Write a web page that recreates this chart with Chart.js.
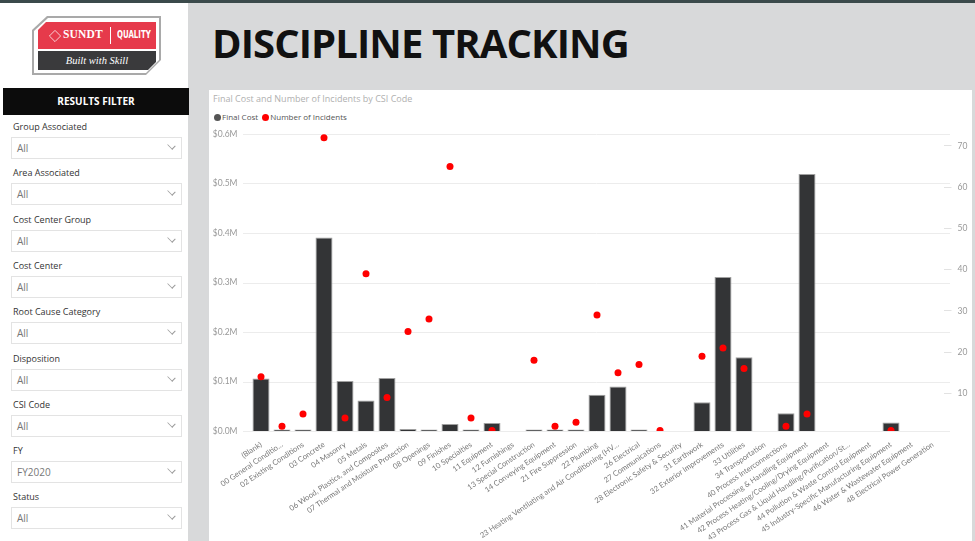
<!DOCTYPE html>
<html lang="en">
<head>
<meta charset="UTF-8">
<title>Discipline Tracking</title>
<script src="https://cdn.jsdelivr.net/npm/chart.js"></script>
<style>
    body {
        margin: 0;
        width: 975px;
        height: 541px;
        overflow: hidden;
        background: #d8d9da;
        font-family: 'Segoe UI', 'Open Sans', sans-serif;
        position: relative;
    }
    .topbar { position: absolute; left: 0; top: 0; width: 975px; height: 3px; background: #3b4a4b; }
    .sidebar { position: absolute; left: 0; top: 3px; width: 188px; height: 538px; background: #fff; }

    /* logo */
    .logo-frame {
        position: absolute; left: 32px; top: 16px; width: 129px; height: 59px;
        background: #a9a9a9;
        clip-path: polygon(15px 0, 100% 0, 100% 44px, 114px 100%, 0 100%, 0 14px);
    }
    .logo-inner {
        position: absolute; left: 2px; top: 2px; right: 2px; bottom: 2px; background: #fff;
        clip-path: polygon(14px 0, 100% 0, 100% 42px, 112px 100%, 0 100%, 0 13px);
    }
    .logo-red {
        position: absolute; left: 38px; top: 22px; width: 118px; height: 27px; background: #e63a4b;
        clip-path: polygon(8px 0, 100% 0, 100% 100%, 0 100%, 0 8px);
        color: #fff;
    }
    .logo-red .brand { position: absolute; left: 25px; top: 6px; font-family: 'Liberation Serif', serif; font-size: 11.5px; font-weight: bold; letter-spacing: 0.2px; }
    .logo-red .sep { position: absolute; left: 72px; top: 5px; width: 1px; height: 17px; background: #fff; }
    .logo-red .qual { position: absolute; left: 79px; top: 7px; font-family: 'Liberation Sans Narrow', 'DejaVu Sans Condensed', sans-serif; font-size: 10px; font-weight: bold; transform: scaleX(0.78); transform-origin: left; }
    .logo-red .mark {
        position: absolute; left: 11px; top: 8px; width: 10px; height: 10px; border: 1.5px solid #fff; transform: rotate(45deg) scale(0.72);
    }
    .logo-dark {
        position: absolute; left: 38px; top: 51px; width: 118px; height: 19px; background: #3a3a3c;
        clip-path: polygon(0 0, 100% 0, 100% 11px, 110px 100%, 0 100%);
        color: #fff; text-align: center;
        font-family: 'Liberation Serif', serif; font-style: italic; font-size: 10.5px; line-height: 19px;
    }

    .filter-head {
        position: absolute; left: 3px; top: 88px; width: 186px; height: 27px; background: #0c0c0c;
        color: #fff; font-weight: 700; font-size: 10px; text-align: center; line-height: 27px;
    }
    .flabel { position: absolute; left: 13px; font-size: 9px; color: #333; }
    .fbox {
        position: absolute; left: 11px; width: 169px; height: 20px; border: 1px solid #e3e3e3; background: #fff;
        font-size: 10px; color: #777; line-height: 21px; box-sizing: content-box;
    }
    .fbox span { position: absolute; left: 5px; top: 0; }
    .fbox i {
        position: absolute; right: 6px; top: 4px; width: 6px; height: 6px;
        border-right: 1px solid #999; border-bottom: 1px solid #999; transform: rotate(45deg) scaleY(0.7);
    }

    .title {
        position: absolute; left: 212px; top: 23px; font-size: 40px; line-height: 40px; font-weight: 700;
        color: #111; letter-spacing: -0.9px; white-space: nowrap;
    }
    .panel { position: absolute; left: 209px; top: 90px; width: 763px; height: 451px; background: #fff; }
    .chart-title { position: absolute; left: 213px; top: 92px; font-size: 9px; color: #b0b0b0; white-space: nowrap; }
    .legend { position: absolute; left: 214px; top: 111px; font-size: 8px; color: #555; white-space: nowrap; }
    .legend .dot { display: inline-block; width: 7px; height: 7px; border-radius: 50%; vertical-align: -1px; margin-right: 1px; }
    #wrap { position: absolute; left: 199px; top: 125px; width: 773px; height: 430px; }
</style>
</head>
<body>
<div class="topbar"></div>
<div class="sidebar"></div>

<div class="logo-frame"><div class="logo-inner"></div></div>
<div class="logo-red"><div class="mark"></div><span class="brand">SUNDT</span><div class="sep"></div><span class="qual">QUALITY</span></div>
<div class="logo-dark">Built with Skill</div>

<div class="filter-head">RESULTS FILTER</div>
<div id="filters"></div>

<div class="title">DISCIPLINE TRACKING</div>
<div class="panel"></div>
<div class="chart-title">Final Cost and Number of Incidents by CSI Code</div>
<div class="legend">
    <span class="dot" style="background:#555"></span>Final Cost
    <span class="dot" style="background:#ff0000;margin-left:2px"></span>Number of Incidents
</div>
<div id="wrap"><canvas id="chart" width="773" height="430"></canvas></div>

<script>
    // sidebar slicers
    const filterNames = ['Group Associated', 'Area Associated', 'Cost Center Group', 'Cost Center',
        'Root Cause Category', 'Disposition', 'CSI Code', 'FY', 'Status'];
    const filterValues = ['All', 'All', 'All', 'All', 'All', 'All', 'All', 'FY2020', 'All'];

    // chart data
    const csiCodes = [
        '(Blank)', '00 General Conditio…', '02 Existing Conditions', '03 Concrete', '04 Masonry',
        '05 Metals', '06 Wood, Plastics, and Composites', '07 Thermal and Moisture Protection',
        '08 Openings', '09 Finishes', '10 Specialties', '11 Equipment', '12 Furnishings',
        '13 Special Construction', '14 Conveying Equipment', '21 Fire Suppression', '22 Plumbing',
        '23 Heating Ventilating and Air Conditioning (HV…', '26 Electrical', '27 Communications',
        '28 Electronic Safety & Security', '31 Earthwork', '32 Exterior Improvements', '33 Utilities',
        '34 Transportation', '40 Process Interconnections', '41 Material Processing & Handling Equipment',
        '42 Process Heating/Cooling/Drying Equipment', '43 Process Gas & Liquid Handling/Purification/St…',
        '44 Pollution & Waste Control Equipment', '45 Industry-Specific Manufacturing Equipment',
        '46 Water & Wastewater Equipment', '48 Electrical Power Generation'
    ];
    const finalCost = [
        106000, 3000, 3000, 391000, 101000, 61500, 107000, 4000, 3000, 14000, 3000, 16000, null,
        3000, 3000, 3000, 73000, 90000, 3000, null, null, 58000, 311000, 149000, null,
        36000, 519000, null, null, null, 17000, null, null
    ];
    const incidents = [
        14, 2, 5, 72, 4, 39, 9, 25, 28, 65, 4, 1, null,
        18, 2, 3, 29, 15, 17, 1, null, 19, 21, 16, null,
        2, 5, null, null, null, 1, null, null
    ];
    const costTicks = [0, 100000, 200000, 300000, 400000, 500000, 600000];
    const countTicks = [10, 20, 30, 40, 50, 60, 70];

    const fwrap = document.getElementById('filters');
    filterNames.forEach((name, i) => {
        const top = 120 + i * 46.3;
        const l = document.createElement('div');
        l.className = 'flabel';
        l.style.top = top + 'px';
        l.textContent = name;
        fwrap.appendChild(l);
        const b = document.createElement('div');
        b.className = 'fbox';
        b.style.top = (top + 17) + 'px';
        b.innerHTML = '<span>' + filterValues[i] + '</span><i></i>';
        fwrap.appendChild(b);
    });

    Chart.defaults.font.family = "'Segoe UI', Lato, sans-serif";

    // gridlines run a bit past the plot like Power BI does
    const extGrid = {
        id: 'extGrid',
        beforeDatasetsDraw(chart) {
            const y = chart.scales.y, ctx = chart.ctx, a = chart.chartArea;
            ctx.save();
            ctx.strokeStyle = '#ececec';
            ctx.lineWidth = 1;
            y.ticks.forEach(t => {
                const py = Math.round(y.getPixelForValue(t.value)) + 0.5;
                ctx.beginPath();
                ctx.moveTo(a.left - 7.5, py);
                ctx.lineTo(a.right + 6.5, py);
                ctx.stroke();
            });
            ctx.restore();
        }
    };

    new Chart(document.getElementById('chart'), {
        data: {
            labels: csiCodes,
            datasets: [
                {
                    type: 'line',
                    label: 'Number of Incidents',
                    data: incidents,
                    yAxisID: 'y1',
                    showLine: false,
                    pointRadius: 3.5,
                    pointHoverRadius: 3.5,
                    pointBorderWidth: 0,
                    pointBackgroundColor: '#ff0000',
                    borderColor: '#ff0000',
                    clip: 0,
                    order: 0
                },
                {
                    type: 'bar',
                    label: 'Final Cost',
                    data: finalCost,
                    yAxisID: 'y',
                    backgroundColor: '#333436',
                    borderColor: '#a0a0a0',
                    borderWidth: 1,
                    categoryPercentage: 1,
                    barPercentage: 0.81,
                    order: 1
                }
            ]
        },
        options: {
            responsive: false,
            animation: false,
            devicePixelRatio: 1,
            layout: { padding: { top: 9, bottom: 0, left: 0, right: 0 } },
            plugins: { legend: { display: false }, tooltip: { enabled: false } },
            scales: {
                x: {
                    grid: { display: false },
                    border: { display: false },
                    ticks: {
                        autoSkip: false, maxRotation: 34, minRotation: 34, padding: 1,
                        color: '#777', font: { size: 7.6 }
                    },
                    afterFit: s => { s.height = 124; }
                },
                y: {
                    position: 'left',
                    min: 0, max: 600000,
                    grid: { display: false, drawTicks: false },
                    border: { display: false },
                    afterBuildTicks: s => { s.ticks = costTicks.map(v => ({ value: v })); },
                    ticks: {
                        padding: 13, color: '#999', font: { size: 8.5 },
                        callback: v => '$' + (v / 1000000).toFixed(1) + 'M'
                    },
                    afterFit: s => { s.width = 51.5; s.paddingTop = 0; s.paddingBottom = 0; }
                },
                y1: {
                    position: 'right',
                    min: 0.85, max: 72.9,
                    grid: { drawOnChartArea: false, drawTicks: true, tickLength: 8, color: '#e2e2e2' },
                    border: { display: false },
                    afterBuildTicks: s => { s.ticks = countTicks.map(v => ({ value: v })); },
                    ticks: { padding: 6, color: '#999', font: { size: 8.5 } },
                    afterFit: s => { s.width = 28.5; s.paddingTop = 0; s.paddingBottom = 0; }
                }
            }
        },
        plugins: [extGrid]
    });
</script>
</body>
</html>
